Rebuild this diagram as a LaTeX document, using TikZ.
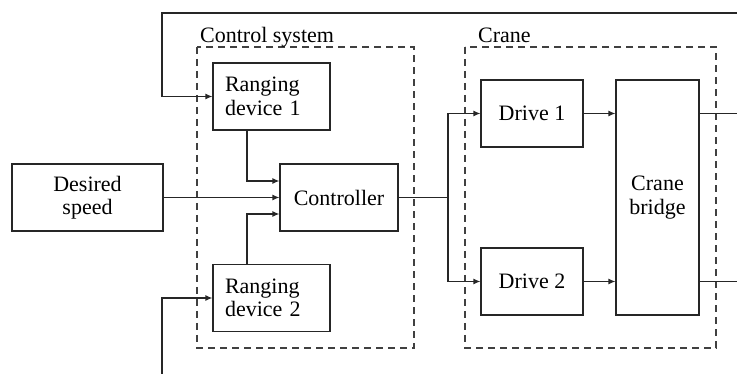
\documentclass[tikz,border=0pt]{standalone}
\usepackage{fontspec}
\setmainfont{Liberation Serif}
\newfontfamily\tnrfont{Liberation Serif}
\usetikzlibrary{arrows.meta}
\begin{document}
\begin{tikzpicture}[x=1pt,y=-1pt,
  every node/.style={font=\tnrfont\fontsize{22}{23.5}\selectfont},
  blk/.style={draw=black!85,line width=1.2pt,inner sep=0pt,align=center,minimum height=67pt},
  lblk/.style={draw=black!85,line width=1.2pt,inner ysep=0pt,inner xsep=12pt,text width=93pt,align=left,minimum height=67pt},
  conn/.style={draw=black!85,line width=1.2pt},
  arr/.style={conn,-{Latex[length=7pt,width=6pt]}},
  grp/.style={draw=black!75,line width=1.2pt,dash pattern=on 7pt off 5pt},
  lbl/.style={anchor=base west,inner sep=0pt}]
\useasboundingbox (0,0) rectangle (737,374);
% groups
\draw[grp] (197,47) rectangle (414,348);
\draw[grp] (465,47) rectangle (716,348);
\node[lbl] (lcs) at (200,43) {Control system};
\node[lbl] (lcr) at (478,43) {Crane};
% blocks
\node[lblk] (rd1) at (271.5,96.5) {Ranging\\device 1};
\node[lblk] (rd2) at (271.5,298) {Ranging\\device 2};
\node[blk,minimum width=118pt] (ctrl) at (339,197.5) {Controller};
\node[blk,minimum width=151pt] (ds) at (87.5,197.5) {Desired\\speed};
\node[blk,minimum width=102pt] (d1) at (532,113.5) {Drive 1};
\node[blk,minimum width=102pt] (d2) at (532,281.5) {Drive 2};
\node[blk,minimum width=83pt,minimum height=235pt] (cb) at (657.5,197.5) {Crane\\bridge};
% free ends
\coordinate (tr) at (737,13);
\coordinate (tl) at (162,13);
\coordinate (bl) at (162,374);
\coordinate (split) at (448,197.5);
\coordinate (o1) at (737,113.5);
\coordinate (o2) at (737,281.5);
% connectors
\draw[arr] (tr) -- (tl) |- (rd1.west);
\draw[arr] (bl) |- (rd2.west);
\draw[arr] ([xshift=-24.5pt]rd1.south) |- ([yshift=16.5pt]ctrl.west);
\draw[arr] ([xshift=-24.5pt]rd2.north) |- ([yshift=-16.5pt]ctrl.west);
\draw[arr] (ds.east) -- (ctrl.west);
\draw[conn] (ctrl.east) -- (split);
\draw[arr] (split) |- (d1.west);
\draw[arr] (split) |- (d2.west);
\draw[arr] (d1.east) -- (d1.east -| cb.west);
\draw[arr] (d2.east) -- (d2.east -| cb.west);
\draw[conn] (cb.east |- o1) -- (o1);
\draw[conn] (cb.east |- o2) -- (o2);
\end{tikzpicture}
\end{document}
